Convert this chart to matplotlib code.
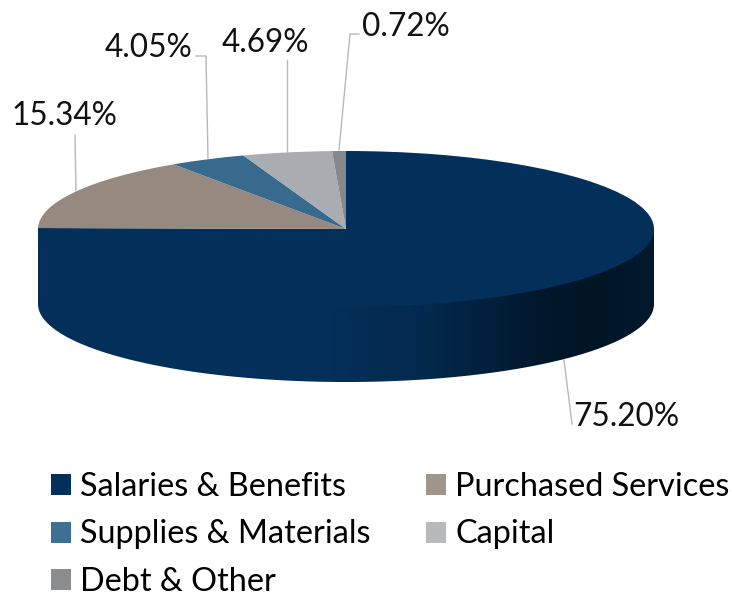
import numpy as np
import matplotlib
matplotlib.use("Agg")
import matplotlib.pyplot as plt
from matplotlib.colors import LinearSegmentedColormap
from matplotlib.patches import Patch, Polygon

plt.rcParams['font.family'] = ['Lato', 'DejaVu Sans']

# --- chart data ---
categories = ["Salaries & Benefits", "Purchased Services", "Supplies & Materials", "Capital", "Debt & Other"]
values = [75.20, 15.34, 4.05, 4.69, 0.72]
pie_colors = ["#03305a", "#968a80", "#386a8e", "#a9acb0", "#85888c"]
legend_colors = ["#033059", "#a0958a", "#3f6f92", "#b8b9bb", "#8a8c8e"]

W, H = 732, 598
fig = plt.figure(figsize=(W / 100, H / 100), dpi=100)

# full figure axes in pixel coords for the rim, leaders and labels
bg = fig.add_axes([0, 0, 1, 1], zorder=1)
bg.set_xlim(0, W)
bg.set_ylim(H, 0)
bg.axis("off")

# --- rim of the pie, shaded left to right ---
# the polygon runs up to the centre line so the pie top overlaps it (no seam)
cx, cy, rx, ry, depth = 346, 229, 308, 78, 75
t = np.linspace(0, np.pi, 200)
x_rim = cx + rx * np.cos(t)
rim = np.column_stack([x_rim, cy + depth + ry * np.sin(t)])
rim = np.vstack([[cx + rx, cy], rim, [cx - rx, cy]])
shade = LinearSegmentedColormap.from_list("rim", [
    (0.00, "#03305a"), (0.45, "#03305a"), (0.62, "#032a4e"),
    (0.80, "#02192f"), (0.90, "#011524"), (1.00, "#03192e"),
])
clip = Polygon(rim, closed=True, transform=bg.transData, fc="none", ec="none")
bg.add_patch(clip)
im = bg.imshow(np.linspace(0, 1, 256).reshape(1, -1), cmap=shade, aspect="auto",
               extent=[cx - rx, cx + rx, cy + depth + ry, cy])
im.set_clip_path(clip)
bg.set_xlim(0, W)
bg.set_ylim(H, 0)

# --- top of the pie: a normal pie squashed into an ellipse ---
ax = fig.add_axes([(cx - rx) / W, 1 - (cy + ry) / H, 2 * rx / W, 2 * ry / H], zorder=2)
ax.pie(values, colors=pie_colors, startangle=90, counterclock=False, radius=1)
ax.set_aspect("auto")
ax.set_xlim(-1, 1)
ax.set_ylim(-1, 1)

# --- leader lines and value labels ---
top = fig.add_axes([0, 0, 1, 1], zorder=3)
top.set_xlim(0, W)
top.set_ylim(H, 0)
top.axis("off")
top.patch.set_alpha(0)

leader_col = "#b8b8b8"
top.plot([564, 572], [360, 424], color=leader_col, lw=1)
top.plot([75, 76], [135, 191], color=leader_col, lw=1)
top.plot([196, 206, 208], [56, 56, 158], color=leader_col, lw=1)
top.plot([287, 287], [60, 152], color=leader_col, lw=1)
top.plot([359, 350, 339], [34, 34, 150], color=leader_col, lw=1)

label_pos = [(573, 426), (11, 125), (105, 57), (222, 52), (362, 36)]
for v, (lx, ly) in zip(values, label_pos):
    top.text(lx, ly, f"{v:.2f}%", fontsize=22.7, color="#111111", ha="left", va="baseline")

# --- legend, column order so it reads across the rows ---
order = [0, 2, 4, 1, 3]
handles = [Patch(fc=legend_colors[i], ec="none", label=categories[i]) for i in order]
top.legend(handles=handles, ncol=2, loc="upper left", bbox_to_anchor=(51, 472),
           bbox_transform=top.transData, frameon=False, fontsize=23.3,
           handlelength=0.62, handleheight=0.62, handletextpad=0.28,
           columnspacing=1.72, labelspacing=0.54, borderpad=0, borderaxespad=0)

fig.savefig("out.png", dpi=100)
